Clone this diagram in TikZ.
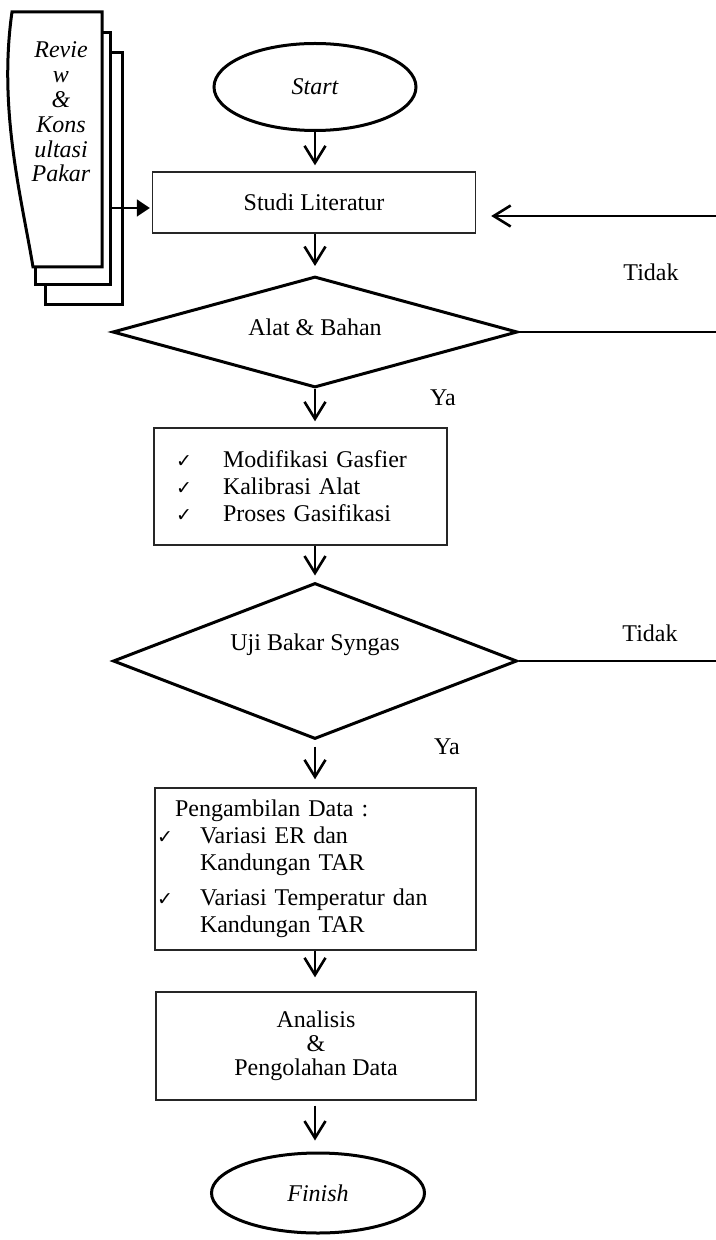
\documentclass[tikz,border=0pt]{standalone}
\usepackage{fontspec}
\setmainfont{Liberation Serif}
\newfontfamily\checkfont{DejaVu Sans}
\usepackage{tikz}
\usetikzlibrary{shapes.geometric,arrows.meta}

\newcommand{\ceklis}{{\checkfont\fontsize{9.5pt}{9.5pt}\selectfont ✓}}

\begin{document}
\fontsize{12pt}{13.5pt}\selectfont
\begin{tikzpicture}[x=0.5pt,y=-0.5pt,
    terminal/.style={draw, ellipse, line width=1.5pt, inner sep=0pt, font=\itshape},
    kotak/.style={draw, black!85, text=black, line width=0.7pt},
    keputusan/.style={draw, diamond, line width=1.5pt, inner sep=0pt},
    alur/.style={-{Straight Barb[length=8.5pt,width=10.5pt]}, line width=1.3pt, shorten >=3pt},
    garis/.style={line width=1.4pt},
    lembar/.style={draw, fill=white, line width=1.5pt}]
  \useasboundingbox (0,0) rectangle (716,1240);

  % tumpukan dokumen
  \draw[lembar] (45,53) rectangle (122,305);
  \draw[lembar] (35,33) rectangle (110,285);
  \draw[lembar] (12,12) -- (102,12) -- (102,267) -- (33,267)
     .. controls (22,200) and (-2,110) .. (12,12) -- cycle;
  \node[align=center, font=\fontsize{12pt}{12.4pt}\selectfont\itshape] (review) at (61,112)
     {Revie\\w\\\&\\Kons\\ultasi\\Pakar};
  \coordinate (revout) at (112,208);

  \node[terminal, minimum width=101pt, minimum height=43.5pt] (start) at (315,87) {Start};
  \node[kotak, minimum width=161.5pt, minimum height=30.5pt] (studi) at (314,202.5) {Studi Literatur};
  \node[keputusan, minimum width=202.5pt, minimum height=55.5pt,
        label={[yshift=2.5pt]center:Alat \& Bahan}] (alat) at (315,332) {};
  \node[kotak, minimum height=58.5pt, text width=124.5pt, inner xsep=11pt, align=left] (persiapan) at (300.5,486.5)
     {\makebox[23.5pt][l]{\ceklis}Modifikasi Gasfier\\
      \makebox[23.5pt][l]{\ceklis}Kalibrasi Alat\\
      \makebox[23.5pt][l]{\ceklis}Proses Gasifikasi};
  \node[keputusan, minimum width=202pt, minimum height=78pt,
        label={[yshift=8pt]center:Uji Bakar Syngas}] (uji) at (315,661) {};
  \node[kotak, minimum height=81pt, text width=158.5pt, inner xsep=1pt, align=left] (ambil) at (315.5,869)
     {\hspace*{9pt}Pengambilan Data :\\
      \makebox[21.5pt][l]{\ceklis}Variasi ER dan\\
      \hspace*{21.5pt}Kandungan TAR\\[4pt]
      \makebox[21.5pt][l]{\ceklis}Variasi Temperatur dan\\
      \hspace*{21.5pt}Kandungan TAR};
  \node[kotak, minimum width=160pt, minimum height=54pt, align=center,
        font=\fontsize{12pt}{12pt}\selectfont] (analisis) at (316,1046)
     {Analisis\\\&\\Pengolahan Data};
  \node[terminal, minimum width=106.5pt, minimum height=40pt] (finish) at (318,1193) {Finish};

  \node (tidak1) at (651,272) {Tidak};
  \node (ya1) at (443,398) {Ya};
  \node (tidak2) at (650,633) {Tidak};
  \node (ya2) at (447,747) {Ya};

  \coordinate (kanan0) at (716,216);
  \coordinate (kanan1) at (716,332);
  \coordinate (kanan2) at (716,661);

  \draw[alur] (start.south) -- (start.south |- studi.north);
  \draw[alur, shorten >=4.5pt] (studi.south -| alat.north) -- (alat.north);
  \draw[alur] (alat.south) -- (alat.south |- persiapan.north);
  \draw[alur] (persiapan.south -| uji.north) -- (uji.north);
  \draw[alur, shorten <=3pt, shorten >=4pt] (uji.south) -- (uji.south |- ambil.north);
  \draw[alur, shorten >=7pt] (ambil.south -| uji.south) -- (uji.south |- analisis.north);
  \draw[alur, shorten <=2.5pt, shorten >=5.5pt] (analisis.south -| uji.south) -- (uji.south |- finish.north);

  \draw[garis] (alat.east) -- (kanan1);
  \draw[garis] (uji.east) -- (kanan2);
  \draw[alur, shorten >=7.5pt] (kanan0) -- (kanan0 -| studi.east);
  \draw[-{Triangle[length=6.5pt,width=8.5pt]}, line width=0.9pt, shorten >=1pt] (revout) -- (revout -| studi.west);
\end{tikzpicture}
\end{document}
